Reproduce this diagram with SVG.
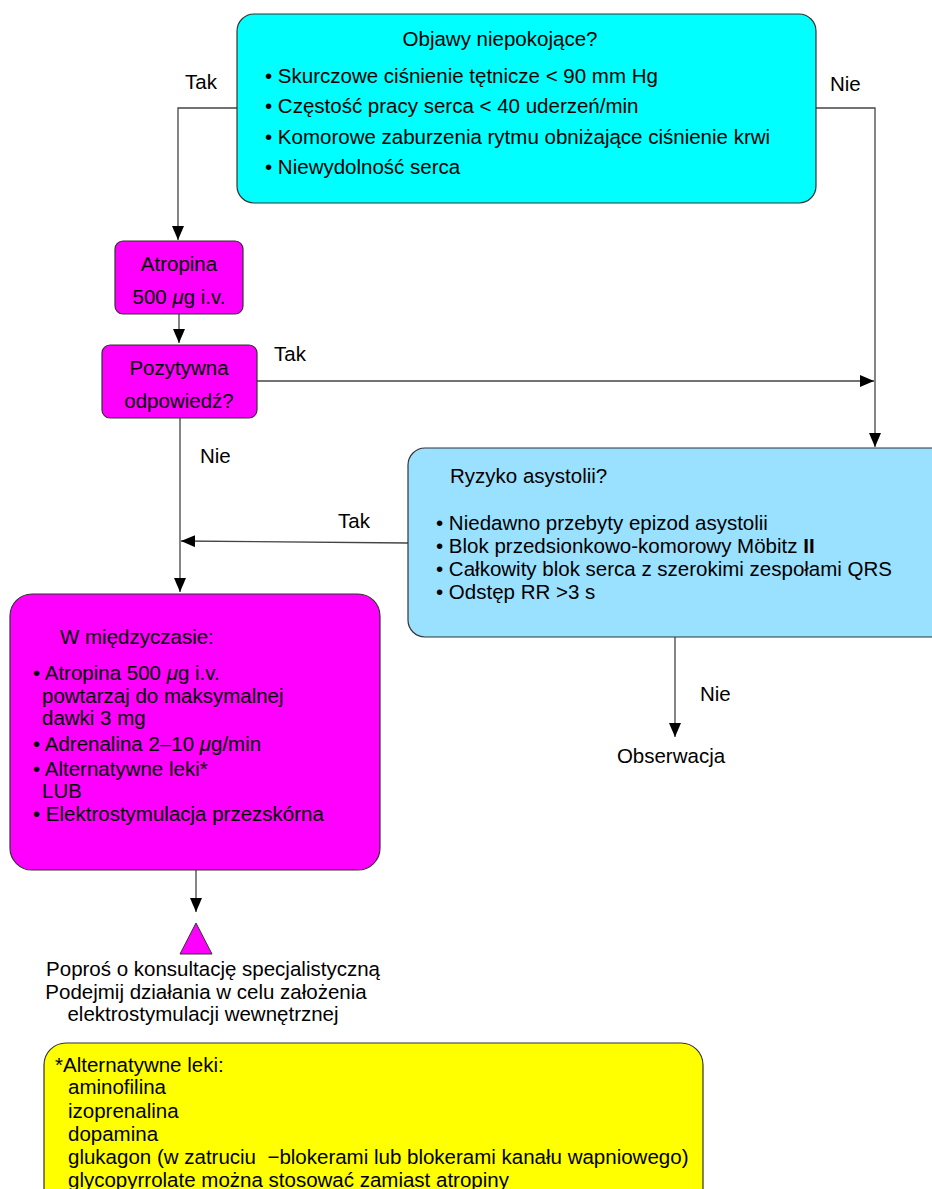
<svg xmlns="http://www.w3.org/2000/svg" width="932" height="1189" viewBox="0 0 932 1189">
<style>
text{font-family:"Liberation Sans",Arial,sans-serif;fill:#000;font-size:20.5px}
.box{stroke:#333;stroke-width:1.2}
.ln{stroke:#444;stroke-width:1.3;fill:none}
</style>
<defs>
<marker id="ahb" viewBox="0 0 14 12" refX="14" refY="6" markerWidth="14" markerHeight="12" markerUnits="userSpaceOnUse" orient="auto">
<path d="M0,0 L14,6 L0,12 Z" fill="#000"/>
</marker>
</defs>
<rect width="932" height="1189" fill="#fff"/>
<g id="connectors">
<polyline class="ln" points="237,108 178,108 178,240" marker-end="url(#ahb)"/>
<polyline class="ln" points="816,108 875,108 875,447" marker-end="url(#ahb)"/>
<line class="ln" x1="179" y1="314" x2="179" y2="343" marker-end="url(#ahb)"/>
<line class="ln" x1="257" y1="381" x2="874" y2="381" marker-end="url(#ahb)"/>
<line class="ln" x1="180" y1="418" x2="180" y2="592" marker-end="url(#ahb)"/>
<line class="ln" x1="408" y1="543" x2="181" y2="541" marker-end="url(#ahb)"/>
<line class="ln" x1="675" y1="637" x2="675" y2="737" marker-end="url(#ahb)"/>
<line class="ln" x1="196" y1="870" x2="196" y2="912" marker-end="url(#ahb)"/>
<text x="185" y="89">Tak</text>
<text x="830" y="91">Nie</text>
<text x="274" y="361">Tak</text>
<text x="200" y="463">Nie</text>
<text x="338" y="528">Tak</text>
<text x="700" y="701">Nie</text>
</g>
<g id="n-objawy">
<rect class="box" x="237" y="14" width="579" height="189" rx="17" fill="#00FFFF"/>
<text x="500" y="46" text-anchor="middle">Objawy niepokojące?</text>
<text x="265" y="83">• Skurczowe ciśnienie tętnicze &lt; 90 mm Hg</text>
<text x="265" y="113">• Częstość pracy serca &lt; 40 uderzeń/min</text>
<text x="265" y="144">• Komorowe zaburzenia rytmu obniżające ciśnienie krwi</text>
<text x="265" y="174">• Niewydolność serca</text>
</g>
<g id="n-atropina">
<rect class="box" x="115" y="241" width="128" height="73" rx="8" fill="#FF00FF"/>
<text x="179" y="271" text-anchor="middle">Atropina</text>
<text x="179" y="304" text-anchor="middle">500 <tspan font-style="italic">μ</tspan>g i.v.</text>
</g>
<g id="n-pozytywna">
<rect class="box" x="102" y="345" width="155" height="73" rx="8" fill="#FF00FF"/>
<text x="179" y="375" text-anchor="middle">Pozytywna</text>
<text x="179" y="408" text-anchor="middle">odpowiedź?</text>
</g>
<g id="n-ryzyko">
<rect class="box" x="408" y="448" width="545" height="189" rx="17" fill="#99E1FF"/>
<text x="450" y="483">Ryzyko asystolii?</text>
<text x="436" y="530">• Niedawno przebyty epizod asystolii</text>
<text x="436" y="553">• Blok przedsionkowo-komorowy Möbitz <tspan font-weight="bold">II</tspan></text>
<text x="436" y="576">• Całkowity blok serca z szerokimi zespołami QRS</text>
<text x="436" y="599">• Odstęp RR &gt;3 s</text>
</g>
<g id="n-obserwacja">
<text x="671" y="763" text-anchor="middle">Obserwacja</text>
</g>
<g id="n-wmiedzyczasie">
<rect class="box" x="10" y="594" width="370" height="276" rx="22" fill="#FF00FF"/>
<text x="60" y="644">W międzyczasie:</text>
<text x="33" y="680">• Atropina 500 <tspan font-style="italic">μ</tspan>g i.v.</text>
<text x="42" y="703">powtarzaj do maksymalnej</text>
<text x="42" y="725">dawki 3 mg</text>
<text x="33" y="751">• Adrenalina 2–10 <tspan font-style="italic">μ</tspan>g/min</text>
<text x="33" y="776">• Alternatywne leki*</text>
<text x="42" y="798">LUB</text>
<text x="33" y="821">• Elektrostymulacja przezskórna</text>
</g>
<g id="n-konsultacja">
<polygon points="196,923 180,954 212,954" fill="#FF00FF" stroke="#333" stroke-width="1"/>
<text x="213" y="976" text-anchor="middle">Poproś o konsultację specjalistyczną</text>
<text x="206" y="999" text-anchor="middle">Podejmij działania w celu założenia</text>
<text x="203" y="1021" text-anchor="middle">elektrostymulacji wewnętrznej</text>
</g>
<g id="n-alternatywne">
<rect class="box" x="44" y="1043" width="659" height="170" rx="22" fill="#FFFF00"/>
<text x="55" y="1072">*Alternatywne leki:</text>
<text x="68" y="1094">aminofilina</text>
<text x="68" y="1118">izoprenalina</text>
<text x="68" y="1141">dopamina</text>
<text x="68" y="1164" xml:space="preserve">glukagon (w zatruciu  −blokerami lub blokerami kanału wapniowego)</text>
<text x="68" y="1187">glycopyrrolate można stosować zamiast atropiny</text>
</g>
</svg>
